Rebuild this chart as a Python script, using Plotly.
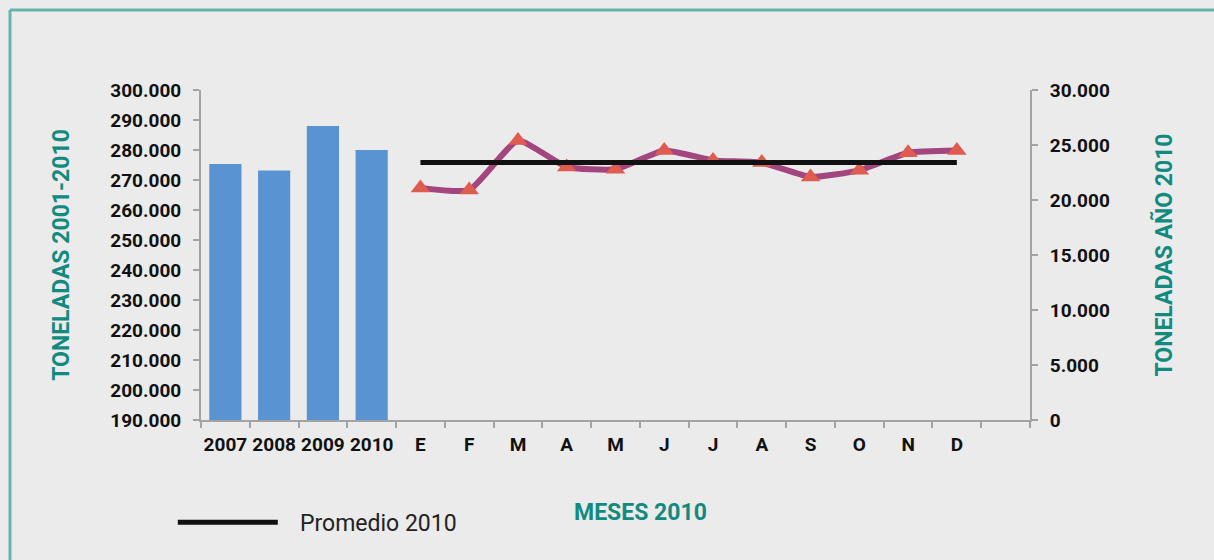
import plotly.graph_objects as go

# ---- data ----
years = ["2007", "2008", "2009", "2010"]
tons_by_year = [275300, 273200, 288000, 280000]

months = ["E", "F", "M", "A", "M", "J", "J", "A", "S", "O", "N", "D"]
tons_2010_monthly = [21100, 20900, 25400, 23000, 22800, 24500,
                     23600, 23400, 22100, 22700, 24300, 24500]
average_2010 = [23400, 23400, 23400, 23400, 23400, 23400,
                23400, 23400, 23400, 23400, 23400, 23400]

tick_labels = years + months
slots = list(range(len(tick_labels) + 1))  # one empty slot after D
x_years = slots[:len(years)]
x_months = slots[len(years):len(years) + len(months)]

TEAL = "#118a80"
AXIS_GRAY = "#a3a3a3"
BG = "#ebebeb"

fig = go.Figure()

fig.add_trace(go.Bar(
    x=x_years, y=tons_by_year, marker=dict(color="#5a93d2", line=dict(width=0)),
    width=0.66, showlegend=False, hoverinfo="y", yaxis="y"))

fig.add_trace(go.Scatter(
    x=x_months, y=tons_2010_monthly, mode="lines+markers", yaxis="y2",
    line=dict(color="#a3457f", width=6, shape="spline", smoothing=0.45),
    marker=dict(symbol="triangle-up", size=17, color="#de5c50"),
    showlegend=False))

fig.add_trace(go.Scatter(
    x=x_months, y=average_2010, mode="lines", yaxis="y2",
    line=dict(color="#111111", width=5),
    name="\u00a0\u00a0\u00a0Promedio 2010"))

tickfont = dict(family="Roboto", size=19, color="#111111", weight="bold")
titlefont = dict(family="Roboto", size=23, color=TEAL, weight="bold")

fig.update_layout(
    width=1214, height=560,
    margin=dict(l=201, r=184, t=90, b=140),
    paper_bgcolor=BG, plot_bgcolor=BG,
    separators=",.",
    bargap=0.34,
    xaxis=dict(
        range=[-0.5, len(slots) - 0.5],
        tickmode="array", tickvals=slots[:len(tick_labels)], ticktext=tick_labels,
        ticks="", tickfont=tickfont, ticklabelstandoff=6,
        showgrid=False, zeroline=False,
        showline=True, linecolor=AXIS_GRAY, linewidth=2,
        minor=dict(tickmode="linear", tick0=-0.5, dtick=1, ticks="outside",
                   ticklen=6, tickcolor=AXIS_GRAY, tickwidth=2, showgrid=False),
    ),
    yaxis=dict(
        range=[190000, 300000], dtick=10000, tick0=190000,
        tickformat=",.0f", tickfont=tickfont,
        ticks="outside", ticklen=6, tickcolor=AXIS_GRAY, tickwidth=2,
        ticklabelstandoff=8,
        showgrid=False, zeroline=False,
        showline=True, linecolor=AXIS_GRAY, linewidth=2,
        title=dict(text="TONELADAS 2001-2010", font=titlefont, standoff=34),
    ),
    yaxis2=dict(
        range=[0, 30000], dtick=5000, overlaying="y", side="right",
        tickformat=",.0f", tickfont=tickfont,
        ticks="outside", ticklen=6, tickcolor=AXIS_GRAY, tickwidth=2,
        ticklabelstandoff=8,
        showgrid=False, zeroline=False,
        showline=True, linecolor=AXIS_GRAY, linewidth=2,
        title=dict(text="TONELADAS AÑO 2010", font=titlefont, standoff=47),
    ),
    legend=dict(
        x=-0.034, y=-0.31, xanchor="left", yanchor="middle",
        bgcolor="rgba(0,0,0,0)", itemwidth=100,
        font=dict(family="Roboto", size=23, color="#222222"),
    ),
    annotations=[dict(
        text="MESES 2010", xref="paper", yref="paper",
        x=(640 - 201) / 829, y=(420 - 512) / 330,
        xanchor="center", yanchor="middle", showarrow=False, font=titlefont)],
    shapes=[
        dict(type="line", xref="paper", yref="paper",
             x0=(10 - 201) / 829, x1=(1214 - 201) / 829,
             y0=(420 - 10) / 330, y1=(420 - 10) / 330,
             line=dict(color="#66b3ae", width=3)),
        dict(type="line", xref="paper", yref="paper",
             x0=(10 - 201) / 829, x1=(10 - 201) / 829,
             y0=(420 - 10) / 330, y1=(420 - 560) / 330,
             line=dict(color="#66b3ae", width=3)),
    ],
)

fig.write_html("out.html", config={"displayModeBar": False},
               post_script="document.body.style.margin='0';")
